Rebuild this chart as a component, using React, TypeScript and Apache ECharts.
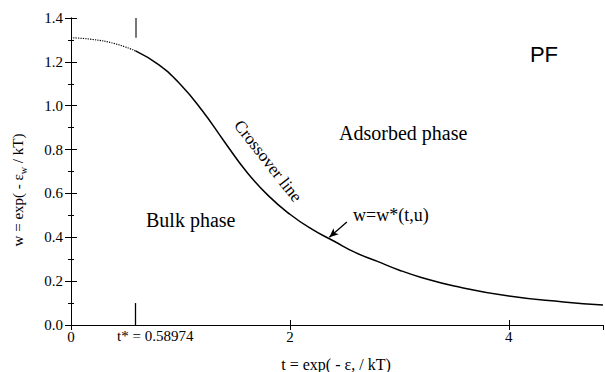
import React, { useEffect, useRef } from "react";
import * as echarts from "echarts";

const T_STAR = 0.58974;
const tDotted = [0, 0.2, 0.4, T_STAR];
const wDotted = [1.31, 1.302, 1.283, 1.25];
const tSolid = [T_STAR, 0.8, 1.0, 1.2, 1.4, 1.6, 1.8, 2.0, 2.2, 2.4, 2.6, 2.8, 3.0, 3.2, 3.5, 4.0, 4.5, 4.86];
const wSolid = [1.25, 1.187, 1.097, 0.977, 0.837, 0.701, 0.591, 0.505, 0.437, 0.383, 0.33, 0.29, 0.25, 0.217, 0.178, 0.132, 0.105, 0.091];
const xTickLabels = ["0", "2", "4"];
const tStarLabel = "t* = 0.58974";

const SERIF = "'Liberation Serif', 'Times New Roman', serif";
const SANS = "'Liberation Sans', Arial, sans-serif";

export default function App() {
  const ref = useRef<HTMLDivElement>(null);
  useEffect(() => {
    if (!ref.current) return;
    const chart = echarts.init(ref.current, null, { renderer: "svg" });
    const axisLine = { show: true, lineStyle: { color: "#000", width: 1 } };
    const xCommon = {
      type: "value" as const,
      min: 0,
      max: 4.86,
      interval: 2,
      splitLine: { show: false },
      axisLine,
    };
    const yCommon = {
      type: "value" as const,
      min: 0,
      max: 1.4,
      interval: 0.2,
      splitLine: { show: false },
      axisLine,
      axisTick: { show: true, inside: true, length: 6, lineStyle: { color: "#000" } },
      minorTick: { show: true, splitNumber: 2, length: 3, lineStyle: { color: "#000" } },
    };
    chart.setOption({
      animation: false,
      grid: { left: 71, right: 2, top: 18, bottom: 47 },
      xAxis: [
        {
          ...xCommon,
          position: "bottom",
          axisTick: { show: true, inside: true, length: 5, lineStyle: { color: "#000" } },
          axisLabel: {
            show: true,
            showMaxLabel: false,
            margin: 4,
            color: "#000",
            fontFamily: SERIF,
            fontSize: 15,
            formatter: (v: number) => {
              const idx = [0, 2, 4].indexOf(Math.round(v));
              return idx >= 0 ? xTickLabels[idx] : "";
            },
          },
        },
        {
          ...xCommon,
          position: "top",
          axisTick: { show: true, inside: true, length: 5, lineStyle: { color: "#000" } },
          axisLabel: { show: false },
        },
      ],
      yAxis: [
        {
          ...yCommon,
          position: "left",
          axisLabel: {
            show: true,
            margin: 8,
            color: "#000",
            fontFamily: SERIF,
            fontSize: 15,
            formatter: (v: number) => v.toFixed(1),
          },
        },
        {
          ...yCommon,
          position: "right",
          axisLabel: { show: false },
        },
      ],
      series: [
        {
          type: "line",
          data: tDotted.map((t, i) => [t, wDotted[i]]),
          showSymbol: false,
          smooth: 0.5,
          lineStyle: { color: "#000", width: 1.2, type: "dotted" },
          silent: true,
        },
        {
          type: "line",
          data: tSolid.map((t, i) => [t, wSolid[i]]),
          showSymbol: false,
          smooth: 0.5,
          lineStyle: { color: "#000", width: 1.5 },
          silent: true,
          markLine: {
            silent: true,
            symbol: "none",
            label: { show: false },
            lineStyle: { color: "#000", width: 1.3, type: "solid" },
            data: [
              [{ coord: [T_STAR, 0] }, { coord: [T_STAR, 0.1] }],
              [
                { coord: [T_STAR, 1.4], lineStyle: { color: "#777", width: 2 } },
                { coord: [T_STAR, 1.31] },
              ],
              [
                { coord: [2.52, 0.47], symbol: "none" },
                { coord: [2.36, 0.4], symbol: "arrow", symbolSize: [6, 9] },
              ],
            ],
          },
        },
      ],
      graphic: [
        {
          type: "text",
          x: 117,
          y: 336,
          style: { text: tStarLabel, font: `15px ${SERIF}`, fill: "#000", verticalAlign: "middle" },
        },
        {
          type: "text",
          x: 336,
          y: 364,
          style: {
            text: "t = exp( - ε, / kT)",
            font: `16px ${SERIF}`,
            fill: "#000",
            align: "center",
            verticalAlign: "middle",
          },
        },
        {
          type: "text",
          x: 18,
          y: 190,
          rotation: Math.PI / 2,
          style: {
            text: "{a|w = exp( - ε}{s|w}{a| / kT)}",
            fill: "#000",
            align: "center",
            verticalAlign: "middle",
            rich: {
              a: { fontFamily: SERIF, fontSize: 15, lineHeight: 20, verticalAlign: "middle", fill: "#000" },
              s: { fontFamily: SERIF, fontSize: 10, lineHeight: 20, verticalAlign: "bottom", fill: "#000" },
            },
          },
        },
        {
          type: "text",
          x: 544,
          y: 54,
          style: { text: "PF", font: `22px ${SANS}`, fill: "#000", align: "center", verticalAlign: "middle" },
        },
        {
          type: "text",
          x: 339,
          y: 133,
          style: { text: "Adsorbed phase", font: `20px ${SERIF}`, fill: "#000", verticalAlign: "middle" },
        },
        {
          type: "text",
          x: 146,
          y: 220,
          style: { text: "Bulk phase", font: `20px ${SERIF}`, fill: "#000", verticalAlign: "middle" },
        },
        {
          type: "text",
          x: 353,
          y: 215,
          style: { text: "w=w*(t,u)", font: `18px ${SERIF}`, fill: "#000", verticalAlign: "middle" },
        },
        {
          type: "text",
          x: 268,
          y: 161,
          rotation: (-52 * Math.PI) / 180,
          style: {
            text: "Crossover line",
            font: `17px ${SERIF}`,
            fill: "#000",
            align: "center",
            verticalAlign: "middle",
          },
        },
      ],
    });
    return () => chart.dispose();
  }, []);
  return (
    <div
      ref={ref}
      style={{ position: "fixed", left: 0, top: 0, width: 605, height: 372, background: "#fff" }}
    />
  );
}
